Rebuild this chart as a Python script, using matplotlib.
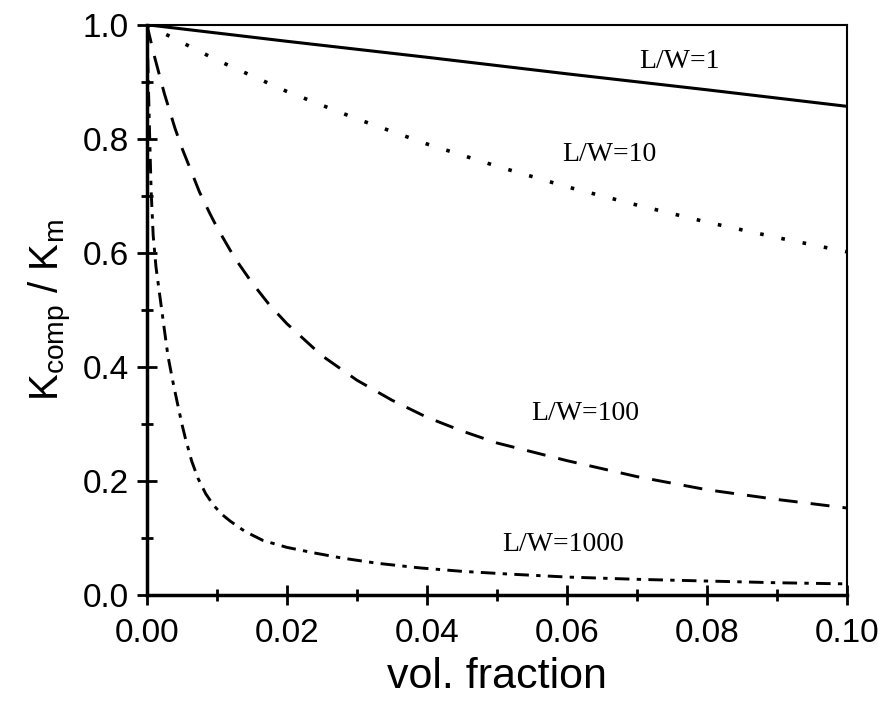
import matplotlib
matplotlib.use("Agg")
import matplotlib.pyplot as plt
from matplotlib.ticker import MultipleLocator, FormatStrFormatter

# ----------------------------------
# DATA
# ----------------------------------

x_lw1 = [0.0, 0.02, 0.04, 0.06, 0.08, 0.10]
y_lw1 = [1.0, 0.971, 0.943, 0.914, 0.886, 0.857]

x_lw10 = [0.0, 0.01, 0.02, 0.03, 0.04, 0.05, 0.06, 0.07, 0.08, 0.09, 0.10]
y_lw10 = [1.0, 0.938, 0.883, 0.835, 0.791, 0.752, 0.716, 0.684, 0.654, 0.627, 0.602]

x_lw100 = [0.0, 0.001, 0.0025, 0.004, 0.005, 0.0065, 0.0075, 0.009, 0.01,
           0.0125, 0.015, 0.0175, 0.02, 0.025, 0.03, 0.035, 0.04, 0.045,
           0.05, 0.06, 0.07, 0.08, 0.09, 0.10]
y_lw100 = [1.0, 0.948, 0.879, 0.819, 0.784, 0.738, 0.707, 0.669, 0.645,
           0.592, 0.548, 0.509, 0.476, 0.420, 0.377, 0.342, 0.312, 0.288,
           0.267, 0.236, 0.208, 0.185, 0.168, 0.153]

x_lw1000 = [0.0, 0.0002, 0.0004, 0.0006, 0.0009, 0.0013, 0.0019, 0.0025,
            0.003, 0.0037, 0.0043, 0.005, 0.0055, 0.0064, 0.0073, 0.0084,
            0.0095, 0.0107, 0.0119, 0.014, 0.0166, 0.02, 0.024, 0.028,
            0.033, 0.039, 0.045, 0.052, 0.06, 0.07, 0.08, 0.09, 0.10]
y_lw1000 = [1.0, 0.90, 0.80, 0.71, 0.63, 0.575, 0.52, 0.465,
            0.42, 0.375, 0.34, 0.30, 0.275, 0.235, 0.205, 0.178,
            0.158, 0.142, 0.130, 0.112, 0.096, 0.084, 0.074, 0.065,
            0.056, 0.048, 0.042, 0.037, 0.032, 0.028, 0.025, 0.022, 0.020]

labels = ["L/W=1", "L/W=10", "L/W=100", "L/W=1000"]
label_pos = [(0.0761, 0.935), (0.0661, 0.772), (0.0626, 0.319), (0.0594, 0.089)]

# ----------------------------------
# PLOT
# ----------------------------------

fig = plt.figure(figsize=(8.85, 7.07), dpi=100)
ax = fig.add_axes([0.166, 0.158, 0.791, 0.807])

ax.plot(x_lw1, y_lw1, color="black", lw=2.2, linestyle="-")
ax.plot(x_lw10, y_lw10, color="black", lw=2.6, linestyle=(0, (1, 5)))
ax.plot(x_lw100, y_lw100, color="black", lw=2.1, linestyle=(0, (6.5, 4.5)))
ax.plot(x_lw1000, y_lw1000, color="black", lw=2.1,
        linestyle=(0, (5, 2.5, 1.5, 2.5)))

for text, (tx, ty) in zip(labels, label_pos):
    ax.text(tx, ty, text, ha="center", va="center",
            family="Liberation Serif", fontsize=20)

ax.set_xlim(0, 0.10)
ax.set_ylim(0, 1.0)
ax.xaxis.set_major_locator(MultipleLocator(0.02))
ax.xaxis.set_minor_locator(MultipleLocator(0.01))
ax.yaxis.set_major_locator(MultipleLocator(0.2))
ax.yaxis.set_minor_locator(MultipleLocator(0.1))
ax.xaxis.set_major_formatter(FormatStrFormatter("%.2f"))
ax.yaxis.set_major_formatter(FormatStrFormatter("%.1f"))

ax.tick_params(which="major", direction="inout", length=14, width=2,
               labelsize=24)
ax.tick_params(axis="x", which="major", pad=9)
ax.tick_params(axis="y", which="major", pad=6)
ax.tick_params(which="minor", direction="inout", length=9, width=2)
for lab in ax.get_xticklabels() + ax.get_yticklabels():
    lab.set_family("Liberation Sans")

for spine in ax.spines.values():
    spine.set_linewidth(2.5)
ax.spines["top"].set_linewidth(1.5)
ax.spines["right"].set_linewidth(1.5)

ax.set_xlabel("vol. fraction", family="Liberation Sans", fontsize=31, labelpad=6)
ax.set_ylabel(r"K$_{\mathregular{comp}}$ / K$_{\mathregular{m}}$",
              family="Liberation Sans", fontsize=29, labelpad=6)

fig.savefig("out.png", dpi=100)
